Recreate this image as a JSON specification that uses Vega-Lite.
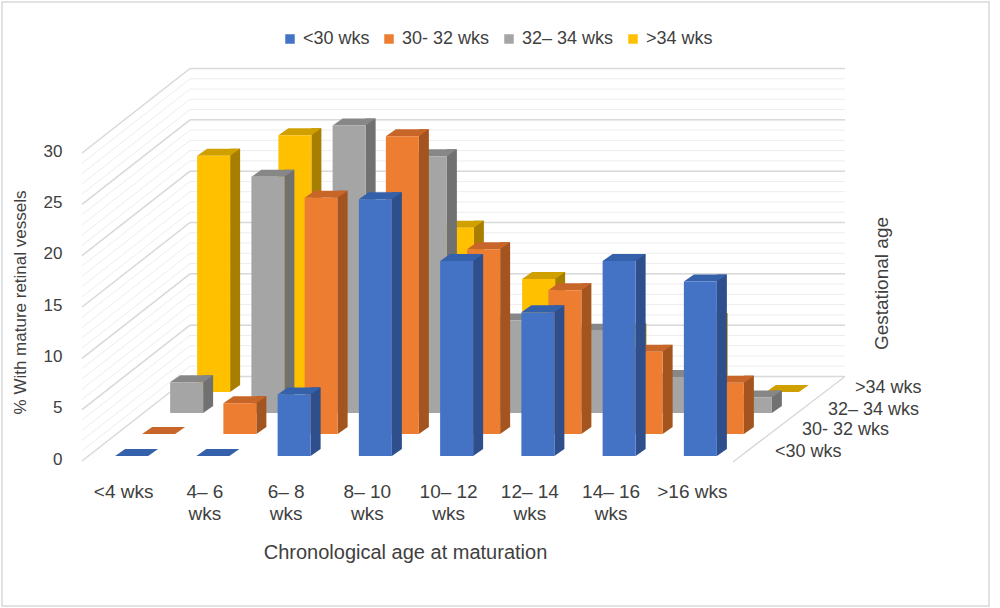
{
  "$schema": "https://vega.github.io/schema/vega-lite/v6.json",
  "width": 987,
  "height": 604,
  "autosize": {"type": "none"},
  "padding": {"left": 2, "top": 2, "right": 11, "bottom": 2},
  "background": "white",
  "config": {
    "view": {"stroke": "#d9d9d9", "strokeWidth": 1.5},
    "font": "Liberation Sans",
    "text": {"font": "Liberation Sans", "fontSize": 18, "color": "#404040"}
  },
  "datasets": {
    "bars": [
      {"age": "<4 wks", "g": "<30 wks", "v": 0},
      {"age": "4– 6 wks", "g": "<30 wks", "v": 0},
      {"age": "6– 8 wks", "g": "<30 wks", "v": 6},
      {"age": "8– 10 wks", "g": "<30 wks", "v": 25},
      {"age": "10– 12 wks", "g": "<30 wks", "v": 19},
      {"age": "12– 14 wks", "g": "<30 wks", "v": 14},
      {"age": "14– 16 wks", "g": "<30 wks", "v": 19},
      {"age": ">16 wks", "g": "<30 wks", "v": 17},
      {"age": "<4 wks", "g": "30- 32 wks", "v": 0},
      {"age": "4– 6 wks", "g": "30- 32 wks", "v": 3},
      {"age": "6– 8 wks", "g": "30- 32 wks", "v": 23},
      {"age": "8– 10 wks", "g": "30- 32 wks", "v": 29},
      {"age": "10– 12 wks", "g": "30- 32 wks", "v": 18},
      {"age": "12– 14 wks", "g": "30- 32 wks", "v": 14},
      {"age": "14– 16 wks", "g": "30- 32 wks", "v": 8},
      {"age": ">16 wks", "g": "30- 32 wks", "v": 5},
      {"age": "<4 wks", "g": "32– 34 wks", "v": 3},
      {"age": "4– 6 wks", "g": "32– 34 wks", "v": 23},
      {"age": "6– 8 wks", "g": "32– 34 wks", "v": 28},
      {"age": "8– 10 wks", "g": "32– 34 wks", "v": 25},
      {"age": "10– 12 wks", "g": "32– 34 wks", "v": 9},
      {"age": "12– 14 wks", "g": "32– 34 wks", "v": 8},
      {"age": "14– 16 wks", "g": "32– 34 wks", "v": 3.5},
      {"age": ">16 wks", "g": "32– 34 wks", "v": 1.5},
      {"age": "<4 wks", "g": ">34 wks", "v": 23},
      {"age": "4– 6 wks", "g": ">34 wks", "v": 25},
      {"age": "6– 8 wks", "g": ">34 wks", "v": 12},
      {"age": "8– 10 wks", "g": ">34 wks", "v": 16},
      {"age": "10– 12 wks", "g": ">34 wks", "v": 11},
      {"age": "12– 14 wks", "g": ">34 wks", "v": 6},
      {"age": "14– 16 wks", "g": ">34 wks", "v": 7},
      {"age": ">16 wks", "g": ">34 wks", "v": 0}
    ],
    "grid": [
      {"v": 0}, {"v": 1}, {"v": 2}, {"v": 3}, {"v": 4}, {"v": 5}, {"v": 6}, {"v": 7},
      {"v": 8}, {"v": 9}, {"v": 10}, {"v": 11}, {"v": 12}, {"v": 13}, {"v": 14}, {"v": 15},
      {"v": 16}, {"v": 17}, {"v": 18}, {"v": 19}, {"v": 20}, {"v": 21}, {"v": 22}, {"v": 23},
      {"v": 24}, {"v": 25}, {"v": 26}, {"v": 27}, {"v": 28}, {"v": 29}, {"v": 30}
    ],
    "rows": [
      {"g": "<30 wks"}, {"g": "30- 32 wks"}, {"g": "32– 34 wks"}, {"g": ">34 wks"}
    ],
    "depthTitle": [{"t": "Gestational age"}]
  },
  "layer": [
    {
      "data": {"name": "grid"},
      "mark": {"type": "rule", "color": "#ededed", "strokeWidth": 1, "xOffset": 58.4, "x2Offset": 144.6, "yOffset": -79.5},
      "encoding": {
        "x": {
          "datum": "<4 wks", "type": "nominal",
          "scale": {
            "type": "band",
            "domain": ["<4 wks", "4– 6 wks", "6– 8 wks", "8– 10 wks", "10– 12 wks", "12– 14 wks", "14– 16 wks", ">16 wks"],
            "range": [89, 739], "paddingInner": 0, "paddingOuter": 0
          },
          "axis": {
            "title": "Chronological age at maturation", "orient": "bottom", "offset": -124,
            "domain": false, "ticks": false, "grid": false, "labelAngle": 0,
            "labelPadding": 0, "labelBaseline": "top", "labelFontSize": 19, "labelLineHeight": 22,
            "labelColor": "#404040", "labelOffset": -8, "labelFont": "Liberation Sans",
            "labelExpr": "indexof(datum.label, '–') >= 0 ? [replace(datum.label, ' wks', ''), 'wks'] : datum.label",
            "titleFontSize": 20, "titleFontWeight": "normal", "titleColor": "#404040",
            "titleFont": "Liberation Sans", "titlePadding": 19, "titleX": 403
          }
        },
        "x2": {"datum": ">16 wks"},
        "y": {
          "field": "v", "type": "quantitative",
          "scale": {"domain": [0, 30], "range": [454, 146], "nice": false, "zero": true},
          "axis": {
            "title": "% With mature retinal vessels", "orient": "left", "offset": -60,
            "values": [0, 5, 10, 15, 20, 25, 30], "domain": false, "ticks": false, "grid": false,
            "labelPadding": 0, "labelFontSize": 17, "labelColor": "#404040", "labelOffset": 3,
            "labelFont": "Liberation Sans", "titleFont": "Liberation Sans",
            "titleFontSize": 17, "titleFontWeight": "normal", "titleColor": "#404040", "titlePadding": 14
          }
        }
      }
    },
    {
      "data": {"name": "grid"},
      "transform": [{"filter": "datum.v % 5 === 0"}],
      "mark": {"type": "rule", "color": "#d9d9d9", "strokeWidth": 1.5, "xOffset": 58.4, "x2Offset": 144.6, "yOffset": -79.5},
      "encoding": {
        "x": {"datum": "<4 wks", "type": "nominal"},
        "x2": {"datum": ">16 wks"},
        "y": {"field": "v", "type": "quantitative"}
      }
    },
    {
      "data": {"name": "grid"},
      "mark": {"type": "rule", "color": "#ededed", "strokeWidth": 1, "xOffset": -49.6, "x2Offset": 58.4, "yOffset": 5, "y2Offset": -79.5},
      "encoding": {
        "x": {"datum": "<4 wks", "type": "nominal"},
        "x2": {"datum": "<4 wks"},
        "y": {"field": "v", "type": "quantitative"},
        "y2": {"field": "v"}
      }
    },
    {
      "data": {"name": "grid"},
      "transform": [{"filter": "datum.v % 5 === 0"}],
      "mark": {"type": "rule", "color": "#d9d9d9", "strokeWidth": 1.5, "xOffset": -49.6, "x2Offset": 58.4, "yOffset": 5, "y2Offset": -79.5},
      "encoding": {
        "x": {"datum": "<4 wks", "type": "nominal"},
        "x2": {"datum": "<4 wks"},
        "y": {"field": "v", "type": "quantitative"},
        "y2": {"field": "v"}
      }
    },
    {
      "data": {"name": "grid"},
      "transform": [{"filter": "datum.v === 0"}],
      "mark": {"type": "rule", "color": "#d9d9d9", "strokeWidth": 1.5, "xOffset": 32.6, "x2Offset": 144.6, "yOffset": 6, "y2Offset": -79.5},
      "encoding": {
        "x": {"datum": ">16 wks", "type": "nominal"},
        "x2": {"datum": ">16 wks"},
        "y": {"field": "v", "type": "quantitative"},
        "y2": {"field": "v"}
      }
    },

    {
      "data": {"name": "bars"},
      "transform": [{"filter": "datum.g === '>34 wks'"}],
      "mark": {"type": "bar", "width": 10, "color": "#a87e00", "xOffset": 103.5, "yOffset": -71, "y2Offset": -71},
      "encoding": {"x": {"field": "age", "type": "nominal"}, "y": {"field": "v", "type": "quantitative"}, "y2": {"datum": 0}}
    },
    {
      "data": {"name": "bars"},
      "transform": [{"filter": "datum.g === '>34 wks' && datum.v > 0"}],
      "mark": {"type": "point", "shape": "M1.65,0L1.65,-0.7L2.65,-0.7Z", "size": 400, "filled": true, "opacity": 1, "strokeWidth": 0, "color": "#a87e00", "xOffset": 82, "yOffset": -64},
      "encoding": {"x": {"field": "age", "type": "nominal"}, "y": {"datum": 0, "type": "quantitative"}}
    },
    {
      "data": {"name": "bars"},
      "transform": [{"filter": "datum.g === '>34 wks'"}],
      "mark": {"type": "point", "shape": "M-1.65,0L1.65,0L2.65,-0.7L-0.65,-0.7Z", "size": 400, "filled": true, "opacity": 1, "strokeWidth": 0, "color": "#cfa000", "xOffset": 82, "yOffset": -64},
      "encoding": {"x": {"field": "age", "type": "nominal"}, "y": {"field": "v", "type": "quantitative"}}
    },
    {
      "data": {"name": "bars"},
      "transform": [{"filter": "datum.g === '>34 wks'"}],
      "mark": {"type": "bar", "width": 33, "xOffset": 82, "yOffset": -64, "y2Offset": -64},
      "encoding": {
        "x": {"field": "age", "type": "nominal"},
        "y": {"field": "v", "type": "quantitative"},
        "y2": {"datum": 0},
        "color": {
          "field": "g", "type": "nominal",
          "scale": {"domain": ["<30 wks", "30- 32 wks", "32– 34 wks", ">34 wks"], "range": ["#4472c4", "#ed7d31", "#a5a5a5", "#ffc000"]},
          "legend": {
            "title": null, "orient": "none", "direction": "horizontal", "legendX": 279, "legendY": 28,
            "symbolType": "square", "symbolSize": 90, "symbolStrokeWidth": 0, "labelFontSize": 18,
            "labelFont": "Liberation Sans", "labelColor": "#404040", "labelOffset": 4, "columnPadding": 10, "padding": 0
          }
        }
      }
    },

    {
      "data": {"name": "bars"},
      "transform": [{"filter": "datum.g === '32– 34 wks'"}],
      "mark": {"type": "bar", "width": 10, "color": "#717171", "xOffset": 76.5, "yOffset": -50, "y2Offset": -50},
      "encoding": {"x": {"field": "age", "type": "nominal"}, "y": {"field": "v", "type": "quantitative"}, "y2": {"datum": 0}}
    },
    {
      "data": {"name": "bars"},
      "transform": [{"filter": "datum.g === '32– 34 wks' && datum.v > 0"}],
      "mark": {"type": "point", "shape": "M1.65,0L1.65,-0.7L2.65,-0.7Z", "size": 400, "filled": true, "opacity": 1, "strokeWidth": 0, "color": "#717171", "xOffset": 55, "yOffset": -43},
      "encoding": {"x": {"field": "age", "type": "nominal"}, "y": {"datum": 0, "type": "quantitative"}}
    },
    {
      "data": {"name": "bars"},
      "transform": [{"filter": "datum.g === '32– 34 wks'"}],
      "mark": {"type": "point", "shape": "M-1.65,0L1.65,0L2.65,-0.7L-0.65,-0.7Z", "size": 400, "filled": true, "opacity": 1, "strokeWidth": 0, "color": "#878787", "xOffset": 55, "yOffset": -43},
      "encoding": {"x": {"field": "age", "type": "nominal"}, "y": {"field": "v", "type": "quantitative"}}
    },
    {
      "data": {"name": "bars"},
      "transform": [{"filter": "datum.g === '32– 34 wks'"}],
      "mark": {"type": "bar", "width": 33, "xOffset": 55, "yOffset": -43, "y2Offset": -43},
      "encoding": {
        "x": {"field": "age", "type": "nominal"},
        "y": {"field": "v", "type": "quantitative"},
        "y2": {"datum": 0},
        "color": {"field": "g", "type": "nominal"}
      }
    },

    {
      "data": {"name": "bars"},
      "transform": [{"filter": "datum.g === '30- 32 wks'"}],
      "mark": {"type": "bar", "width": 10, "color": "#a4541e", "xOffset": 48.5, "yOffset": -29, "y2Offset": -29},
      "encoding": {"x": {"field": "age", "type": "nominal"}, "y": {"field": "v", "type": "quantitative"}, "y2": {"datum": 0}}
    },
    {
      "data": {"name": "bars"},
      "transform": [{"filter": "datum.g === '30- 32 wks' && datum.v > 0"}],
      "mark": {"type": "point", "shape": "M1.65,0L1.65,-0.7L2.65,-0.7Z", "size": 400, "filled": true, "opacity": 1, "strokeWidth": 0, "color": "#a4541e", "xOffset": 27, "yOffset": -22},
      "encoding": {"x": {"field": "age", "type": "nominal"}, "y": {"datum": 0, "type": "quantitative"}}
    },
    {
      "data": {"name": "bars"},
      "transform": [{"filter": "datum.g === '30- 32 wks'"}],
      "mark": {"type": "point", "shape": "M-1.65,0L1.65,0L2.65,-0.7L-0.65,-0.7Z", "size": 400, "filled": true, "opacity": 1, "strokeWidth": 0, "color": "#c8662a", "xOffset": 27, "yOffset": -22},
      "encoding": {"x": {"field": "age", "type": "nominal"}, "y": {"field": "v", "type": "quantitative"}}
    },
    {
      "data": {"name": "bars"},
      "transform": [{"filter": "datum.g === '30- 32 wks'"}],
      "mark": {"type": "bar", "width": 33, "xOffset": 27, "yOffset": -22, "y2Offset": -22},
      "encoding": {
        "x": {"field": "age", "type": "nominal"},
        "y": {"field": "v", "type": "quantitative"},
        "y2": {"datum": 0},
        "color": {"field": "g", "type": "nominal"}
      }
    },

    {
      "data": {"name": "bars"},
      "transform": [{"filter": "datum.g === '<30 wks'"}],
      "mark": {"type": "bar", "width": 10, "color": "#2e4f8c", "xOffset": 21.5, "yOffset": -7, "y2Offset": -7},
      "encoding": {"x": {"field": "age", "type": "nominal"}, "y": {"field": "v", "type": "quantitative"}, "y2": {"datum": 0}}
    },
    {
      "data": {"name": "bars"},
      "transform": [{"filter": "datum.g === '<30 wks' && datum.v > 0"}],
      "mark": {"type": "point", "shape": "M1.65,0L1.65,-0.7L2.65,-0.7Z", "size": 400, "filled": true, "opacity": 1, "strokeWidth": 0, "color": "#2e4f8c", "xOffset": 0, "yOffset": 0},
      "encoding": {"x": {"field": "age", "type": "nominal"}, "y": {"datum": 0, "type": "quantitative"}}
    },
    {
      "data": {"name": "bars"},
      "transform": [{"filter": "datum.g === '<30 wks'"}],
      "mark": {"type": "point", "shape": "M-1.65,0L1.65,0L2.65,-0.7L-0.65,-0.7Z", "size": 400, "filled": true, "opacity": 1, "strokeWidth": 0, "color": "#3560aa", "xOffset": 0, "yOffset": 0},
      "encoding": {"x": {"field": "age", "type": "nominal"}, "y": {"field": "v", "type": "quantitative"}}
    },
    {
      "data": {"name": "bars"},
      "transform": [{"filter": "datum.g === '<30 wks'"}],
      "mark": {"type": "bar", "width": 33},
      "encoding": {
        "x": {"field": "age", "type": "nominal"},
        "y": {"field": "v", "type": "quantitative"},
        "y2": {"datum": 0},
        "color": {"field": "g", "type": "nominal"}
      }
    },

    {
      "data": {"name": "rows"},
      "transform": [{"filter": "datum.g === '<30 wks'"}],
      "mark": {"type": "text", "align": "left", "baseline": "middle", "dx": 74.6, "dy": -4},
      "encoding": {"x": {"datum": ">16 wks", "type": "nominal"}, "y": {"datum": 0, "type": "quantitative"}, "text": {"field": "g"}}
    },
    {
      "data": {"name": "rows"},
      "transform": [{"filter": "datum.g === '30- 32 wks'"}],
      "mark": {"type": "text", "align": "left", "baseline": "middle", "dx": 101.6, "dy": -26},
      "encoding": {"x": {"datum": ">16 wks", "type": "nominal"}, "y": {"datum": 0, "type": "quantitative"}, "text": {"field": "g"}}
    },
    {
      "data": {"name": "rows"},
      "transform": [{"filter": "datum.g === '32– 34 wks'"}],
      "mark": {"type": "text", "align": "left", "baseline": "middle", "dx": 127.6, "dy": -46},
      "encoding": {"x": {"datum": ">16 wks", "type": "nominal"}, "y": {"datum": 0, "type": "quantitative"}, "text": {"field": "g"}}
    },
    {
      "data": {"name": "rows"},
      "transform": [{"filter": "datum.g === '>34 wks'"}],
      "mark": {"type": "text", "align": "left", "baseline": "middle", "dx": 154.6, "dy": -68},
      "encoding": {"x": {"datum": ">16 wks", "type": "nominal"}, "y": {"datum": 0, "type": "quantitative"}, "text": {"field": "g"}}
    },
    {
      "data": {"name": "depthTitle"},
      "mark": {"type": "text", "align": "center", "baseline": "middle", "angle": 270, "fontSize": 19, "dy": 181.6},
      "encoding": {"x": {"datum": ">16 wks", "type": "nominal"}, "y": {"datum": 16.8, "type": "quantitative"}, "text": {"field": "t"}}
    }
  ]
}
